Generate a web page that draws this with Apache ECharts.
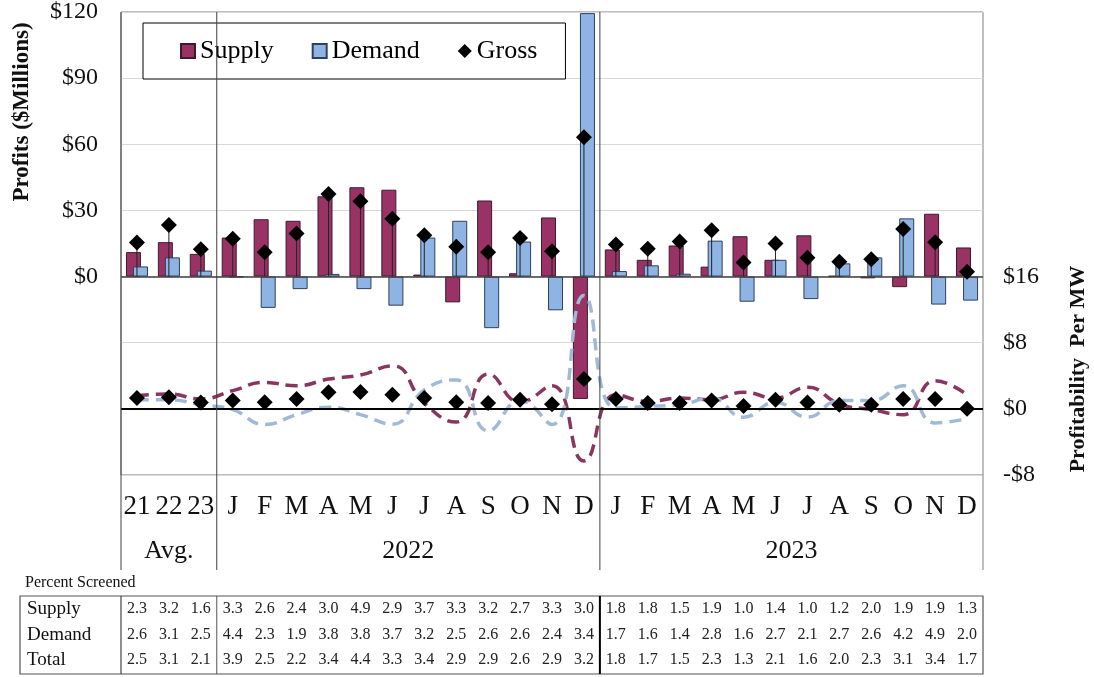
<!DOCTYPE html>
<html><head><meta charset="utf-8">
<script src="https://cdn.jsdelivr.net/npm/echarts@6/dist/echarts.min.js"></script>
<style>html,body{margin:0;padding:0;background:#fff}#c{width:1094px;height:677px}</style>
</head><body><div id="c"></div>
<script>
const categories = ['21','22','23','J','F','M','A','M','J','J','A','S','O','N','D','J','F','M','A','M','J','J','A','S','O','N','D'];
const groups = [{name:'Avg.', from:0, to:2},{name:'2022', from:3, to:14},{name:'2023', from:15, to:26}];
// Profits ($ millions), left axis
const supply = [11.1,15.6,10.3, 17.7,26.0,25.3,36.4,40.5,39.4,0.9,-11.7,34.5,1.5,26.8,-55.5, 12.3,7.6,14.1,4.5,18.3,7.6,18.7,0.3,-0.8,-4.8,28.5,13.2];
const demand = [4.6,8.7,2.7, -0.3,-14.2,-5.7,1.2,-5.7,-13.2,17.7,25.3,-23.4,15.9,-15.3,119.5, 2.5,5.1,1.3,16.3,-11.4,7.6,-10.2,6.0,8.7,26.4,-12.7,-10.9];
const gross = [15.4,23.4,12.4, 17.2,11.0,19.5,37.5,34.2,26.2,18.7,13.5,11.0,17.5,11.5,63.2, 14.5,12.6,15.9,21.0,6.4,15.0,8.5,6.7,7.8,21.6,15.6,2.2];
// Profitability per MW, right axis
const supplyPerMW = [1.6,1.8,1.2, 2.2,3.2,2.8,3.6,4.1,5.2,0.7,-1.6,4.2,0.8,2.8,-6.3, 1.7,0.9,1.3,1.1,2.0,1.3,2.6,0.6,-0.1,-0.7,3.4,1.7];
const demandPerMW = [1.1,1.1,0.5, -0.1,-1.9,-0.7,0.2,-0.7,-1.85,2.3,3.5,-2.65,1.0,-1.9,13.7, 0.1,0.3,0.5,1.3,-1.0,0.8,-1.0,1.0,1.0,2.8,-1.7,-1.2];
const grossPerMW = [1.3,1.4,0.76, 1.0,0.8,1.2,2.0,2.05,1.7,1.3,0.8,0.7,1.1,0.56,3.6, 1.2,0.7,0.7,1.0,0.36,1.1,0.76,0.5,0.5,1.2,1.2,0.0];
// Percent screened table
const tableRows = ['Supply','Demand','Total'];
const pctSupply = ['2.3','3.2','1.6','3.3','2.6','2.4','3.0','4.9','2.9','3.7','3.3','3.2','2.7','3.3','3.0','1.8','1.8','1.5','1.9','1.0','1.4','1.0','1.2','2.0','1.9','1.9','1.3'];
const pctDemand = ['2.6','3.1','2.5','4.4','2.3','1.9','3.8','3.8','3.7','3.2','2.5','2.6','2.6','2.4','3.4','1.7','1.6','1.4','2.8','1.6','2.7','2.1','2.7','2.6','4.2','4.9','2.0'];
const pctTotal = ['2.5','3.1','2.1','3.9','2.5','2.2','3.4','4.4','3.3','3.4','2.9','2.9','2.6','2.9','3.2','1.8','1.7','1.5','2.3','1.3','2.1','1.6','2.0','2.3','3.1','3.4','1.7'];
const leftTicks = {min:-90, max:120, interval:30};
const rightTicks = {min:-8, max:48, interval:8};

const FONT = 'Liberation Serif';
const chart = echarts.init(document.getElementById('c'), null, {renderer:'canvas'});
const GRID = {left:121, right:111, top:12, bottom:202};

function tableAxis(values, offset){
  return {type:'category', data:categories, gridIndex:0, position:'bottom', offset:offset,
    axisLine:{show:false}, axisTick:{show:false}, splitLine:{show:false},
    axisLabel:{interval:0, margin:0, verticalAlign:'middle', fontFamily:FONT, fontSize:16, color:'#222',
      formatter:(v,i)=>values[i]}};
}

const option = {
  backgroundColor:'#fff',
  animation:false,
  grid:{left:GRID.left, right:GRID.right, top:GRID.top, bottom:GRID.bottom, show:true, borderColor:'#7f7f7f', borderWidth:1, backgroundColor:'#fff'},
  legend:{data:[{name:'Supply', icon:'rect'},{name:'Demand', icon:'rect'},{name:'Gross', icon:'diamond'}],
    left:143, top:23, orient:'horizontal', borderColor:'#000', borderWidth:1, backgroundColor:'#fff',
    padding:[15,28,15,37], itemGap:38, itemWidth:14, itemHeight:14,
    textStyle:{fontFamily:FONT, fontSize:26, color:'#000'}},
  xAxis:[
    {type:'category', data:categories, gridIndex:0, position:'bottom',
      axisLine:{show:false}, axisTick:{show:false}, splitLine:{show:false},
      axisLabel:{interval:0, margin:32, verticalAlign:'middle', fontFamily:FONT, fontSize:27, color:'#111'}},
    tableAxis(pctSupply, 134),
    tableAxis(pctDemand, 160),
    tableAxis(pctTotal, 185)
  ],
  yAxis:[
    {type:'value', min:leftTicks.min, max:leftTicks.max, interval:leftTicks.interval,
      axisLine:{show:false}, axisTick:{show:false},
      splitLine:{lineStyle:{color:'#d9d9d9', width:1}},
      axisLabel:{margin:23, fontFamily:FONT, fontSize:24, color:'#111', formatter:v=> v>=0 ? '$'+v : ''}},
    {type:'value', min:rightTicks.min, max:rightTicks.max, interval:rightTicks.interval, position:'right',
      axisLine:{show:false}, axisTick:{show:false}, splitLine:{show:false},
      axisLabel:{margin:20, fontFamily:FONT, fontSize:24, color:'#111', formatter:v=> v>16 ? '' : (v<0 ? '-$'+(-v) : '$'+v)}}
  ],
  series:[
    {name:'Supply', type:'bar', yAxisIndex:0, data:supply, barWidth:15, barGap:'-53%', z:2,
      itemStyle:{color:'#993366', borderColor:'#3d1a2c', borderWidth:1},
      markLine:{silent:true, symbol:'none', label:{show:false}, lineStyle:{color:'#404040', width:1.5, type:'solid'}, data:[{yAxis:0}]}},
    {name:'Demand', type:'bar', yAxisIndex:0, data:demand, barWidth:15, z:2,
      itemStyle:{color:'#8DB4E2', borderColor:'#2f3f5c', borderWidth:1}},
    {name:'dropLines', type:'custom', yAxisIndex:0, z:3, silent:true,
      data:gross.map((v,i)=>[i,v]), encode:{x:0,y:1},
      renderItem:(params, api)=>{
        const a = api.coord([api.value(0), 0]);
        const b = api.coord([api.value(0), api.value(1)]);
        return {type:'line', shape:{x1:a[0], y1:a[1], x2:b[0], y2:b[1]}, style:{stroke:'#222', lineWidth:1}};
      }},
    {name:'Supply per MW', type:'line', yAxisIndex:1, data:supplyPerMW, smooth:0.5, symbol:'none', z:4,
      lineStyle:{color:'#8a3560', width:3.5, type:[12,7]}},
    {name:'Demand per MW', type:'line', yAxisIndex:1, data:demandPerMW, smooth:0.5, symbol:'none', z:4,
      lineStyle:{color:'#9fb9d6', width:3.5, type:[12,7]},
      markLine:{silent:true, symbol:'none', label:{show:false}, lineStyle:{color:'#000', width:2, type:'solid'}, data:[{yAxis:0}]}},
    {name:'Gross', type:'scatter', yAxisIndex:0, data:gross, symbol:'diamond', symbolSize:16, z:5,
      itemStyle:{color:'#000', opacity:1}},
    {name:'Gross per MW', type:'scatter', yAxisIndex:1, data:grossPerMW, symbol:'diamond', symbolSize:16, z:5,
      itemStyle:{color:'#000', opacity:1}}
  ]
};
chart.setOption(option);

function px(i){ return chart.convertToPixel({xAxisIndex:0}, i); }
const gTop = GRID.top, gBottom = 677 - GRID.bottom, catBottom = 570;
const xL = GRID.left, xR = 1094 - GRID.right;
const sep1 = (px(2)+px(3))/2, sep2 = (px(14)+px(15))/2;
const tTop = 596, tBottom = 674, tLeft = 20;
const rowY = [609, 635, 660];
const g = [];
function line(x1,y1,x2,y2,color,w){ g.push({type:'line', silent:true, z:10, shape:{x1,y1,x2,y2}, style:{stroke:color, lineWidth:w}}); }
// separators through plot and category area
line(sep1, gTop, sep1, catBottom, '#404040', 1);
line(sep2, gTop, sep2, catBottom, '#404040', 1);
line(xL, gTop, xL, catBottom, '#404040', 1);
line(xR, gBottom, xR, catBottom, '#7f7f7f', 1);
// group labels
groups.forEach(gr=>{
  const cx = (px(gr.from)+px(gr.to))/2;
  g.push({type:'text', silent:true, z:10, x:cx, y:551, style:{text:gr.name, fontFamily:FONT, fontSize:26, fill:'#111', align:'center', verticalAlign:'middle'}});
});
// table
g.push({type:'rect', silent:true, z:10, shape:{x:tLeft, y:tTop, width:xR-tLeft, height:tBottom-tTop}, style:{fill:'none', stroke:'#555', lineWidth:1.2}});
line(xL, tTop, xL, tBottom, '#444', 1.2);
line(sep1, tTop, sep1, tBottom, '#555', 1);
line(sep2, tTop, sep2, tBottom, '#000', 2);
g.push({type:'text', silent:true, z:10, x:25, y:583, style:{text:'Percent Screened', fontFamily:FONT, fontSize:16, fill:'#111', verticalAlign:'middle'}});
tableRows.forEach((r,k)=>{
  g.push({type:'text', silent:true, z:10, x:27, y:rowY[k], style:{text:r, fontFamily:FONT, fontSize:19, fill:'#111', verticalAlign:'middle'}});
});
// axis names
g.push({type:'text', silent:true, z:10, x:22, y:112, rotation:Math.PI/2, style:{text:'Profits ($Millions)', fontFamily:FONT, fontWeight:'bold', fontSize:23, fill:'#111', align:'center', verticalAlign:'middle'}});
g.push({type:'text', silent:true, z:10, x:1078, y:369, rotation:Math.PI/2, style:{text:'Profitability  Per MW', fontFamily:FONT, fontWeight:'bold', fontSize:22, fill:'#111', align:'center', verticalAlign:'middle'}});
chart.setOption({graphic:g});
</script></body></html>
